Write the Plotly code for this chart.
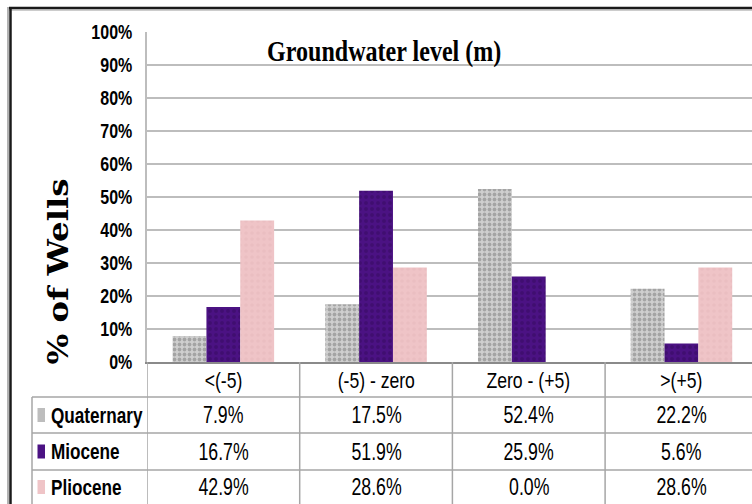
import json
import plotly.graph_objects as go

# Groundwater level classes and share of wells per aquifer (%)
categories = ["<(-5)", "(-5) - zero", "Zero - (+5)", ">(+5)"]
series_names = ["Quaternary", "Miocene", "Pliocene"]
quaternary = [7.9, 17.5, 52.4, 22.2]
miocene = [16.7, 51.9, 25.9, 5.6]
pliocene = [42.9, 28.6, 0.0, 28.6]
y_ticks = [0, 10, 20, 30, 40, 50, 60, 70, 80, 90, 100]
y_tick_labels = ["0%", "10%", "20%", "30%", "40%", "50%", "60%", "70%", "80%", "90%", "100%"]

W, H = 752, 504


def px(x):
    return x / W


def py(y):
    return 1 - y / H


SANS = "Liberation Sans, Arial, sans-serif"
SERIF = "Liberation Serif, Times New Roman, serif"
GRID = "#BDBDBD"
TABLE_LINE = "#A6A6A6"

styles = {
    "Quaternary": dict(bg="#CFCFCF", fg="#7A7A7A", shape=".", size=5, solidity=0.45),
    "Miocene": dict(bg="#4B1283", fg="#36095E", shape=".", size=6, solidity=0.35),
    "Pliocene": dict(bg="#EFC4C7", fg="#E6B8BC", shape=".", size=6, solidity=0.3),
}
key_colors = {"Quaternary": "#BDBDBD", "Miocene": "#4B1283", "Pliocene": "#EFC4C7"}

fig = go.Figure()
for name, vals in zip(series_names, [quaternary, miocene, pliocene]):
    s = styles[name]
    fig.add_trace(go.Bar(
        x=categories, y=vals, name=name,
        marker=dict(
            color=s["bg"],
            line=dict(width=0),
            pattern=dict(shape=s["shape"], fgcolor=s["fg"], bgcolor=s["bg"],
                         size=s["size"], solidity=s["solidity"], fillmode="overlay"),
        ),
        hovertemplate="%{x}: %{y:.1f}%<extra>" + name + "</extra>",
    ))

plot_left, plot_top, plot_bottom = 147, 32, 362
col_w = 152.7
x_end = -0.5 + (W - plot_left) / col_w

fig.update_layout(
    width=W, height=H, autosize=False,
    margin=dict(l=0, r=0, t=0, b=0, pad=0),
    paper_bgcolor="white", plot_bgcolor="white",
    showlegend=False,
    barmode="group", bargap=0.335, bargroupgap=0,
    xaxis=dict(
        domain=[px(plot_left), 1],
        range=[-0.5, x_end],
        showticklabels=False, ticks="", automargin=False,
        showline=True, linecolor="#8A8A8A", linewidth=2,
        showgrid=False, zeroline=False, fixedrange=True,
    ),
    yaxis=dict(
        domain=[py(plot_bottom), py(plot_top)],
        range=[0, 100], automargin=False,
        tickmode="array", tickvals=y_ticks, ticktext=y_tick_labels,
        tickfont=dict(family=SANS, size=20, color="black", weight="bold"),
        ticklabelstandoff=9,
        showgrid=True, gridcolor=GRID, gridwidth=1.5,
        showline=True, linecolor=GRID, linewidth=1.5,
        zeroline=False, ticks="", fixedrange=True,
    ),
)

shapes = []
# outer chart frame
shapes.append(dict(type="line", xref="paper", yref="paper", x0=px(9), x1=1.01, y0=py(8), y1=py(8),
                   line=dict(color="#1A1A1A", width=2.5)))
shapes.append(dict(type="line", xref="paper", yref="paper", x0=px(9), x1=1.01, y0=py(10), y1=py(10),
                   line=dict(color="#9A9A9A", width=1)))
shapes.append(dict(type="line", xref="paper", yref="paper", x0=px(8), x1=px(8), y0=py(7), y1=-0.01,
                   line=dict(color="#9A9A9A", width=1.5)))
shapes.append(dict(type="line", xref="paper", yref="paper", x0=px(10.5), x1=px(10.5), y0=py(7), y1=-0.01,
                   line=dict(color="#1A1A1A", width=2.5)))

# data table grid
row_lines = [397, 433, 470]
for yy in row_lines:
    shapes.append(dict(type="line", xref="paper", yref="paper", x0=px(32), x1=1.0, y0=py(yy), y1=py(yy),
                       line=dict(color=TABLE_LINE, width=1.5)))
shapes.append(dict(type="line", xref="paper", yref="paper", x0=px(32), x1=px(32), y0=py(397), y1=-0.01,
                   line=dict(color=TABLE_LINE, width=1.5)))
for b in [-0.5, 0.5, 1.5, 2.5]:
    shapes.append(dict(type="line", xref="x", yref="paper", x0=b, x1=b, y0=py(362), y1=-0.01,
                       line=dict(color=TABLE_LINE, width=1.5)))

# legend keys in the table
row_centers = [415, 451.5, 487]
for name, yc in zip(series_names, row_centers):
    shapes.append(dict(type="rect", xref="paper", yref="paper", x0=px(37.5), x1=px(45), y0=py(yc - 7),
                       y1=py(yc + 7), fillcolor=key_colors[name], line=dict(width=0)))

fig.update_layout(shapes=shapes)

ann = []
squeeze = []  # [horizontal glyph scale, anchor] per annotation (condensed fonts)


def add_text(text, x, y, font, xref="paper", xanchor="center", textangle=0, scale=1.0):
    ann.append(dict(text=text, xref=xref, yref="paper", x=x, y=y, xanchor=xanchor, yanchor="middle",
                    textangle=textangle, showarrow=False, font=font))
    squeeze.append([scale, xanchor])


# chart title
add_text("<b>Groundwater level (m)</b>", px(384), py(52), dict(family=SERIF, size=29, color="black"),
         scale=0.83)
# y-axis title
add_text("<b>% of Wells</b>", px(58), py(272), dict(family="DejaVu Serif, serif", size=27, color="black"),
         textangle=-90, scale=1.2)
# category header row
for c in categories:
    add_text(c, c, py(380), dict(family=SANS, size=22, color="black"), xref="x", scale=0.8)
# series rows
for name, vals, yc in zip(series_names, [quaternary, miocene, pliocene], row_centers):
    add_text("<b>" + name + "</b>", px(49), py(yc), dict(family=SANS, size=22, color="black"),
             xanchor="left", scale=0.78)
    for c, v in zip(categories, vals):
        add_text(f"{v:.1f}%", c, py(yc), dict(family=SANS, size=23, color="black"), xref="x", scale=0.77)
fig.update_layout(annotations=ann)

# Narrow the sans/serif glyphs in place (Arial Narrow / condensed Times look)
post = """
var gd = document.getElementById('{plot_id}');
var annScale = %s;
function squeezeText(el, s, mode) {
  if (!el) return;
  if (!el.hasAttribute('data-tf0')) {
    el.setAttribute('data-tf0', el.getAttribute('transform') || '');
    var bb = el.getBBox();
    var ox = mode === 'left' ? bb.x : (mode === 'right' ? bb.x + bb.width : bb.x + bb.width / 2);
    el.setAttribute('data-ox', ox);
  }
  var x = parseFloat(el.getAttribute('data-ox'));
  el.setAttribute('transform', el.getAttribute('data-tf0') +
    ' translate(' + x + ',0) scale(' + s + ',1) translate(' + (-x) + ',0)');
}
function applySqueeze() {
  gd.querySelectorAll('.ytick text').forEach(function (t) { squeezeText(t, 0.8, 'right'); });
  gd.querySelectorAll('g.annotation').forEach(function (g) {
    var i = parseInt(g.getAttribute('data-index'));
    squeezeText(g.querySelector('text.annotation-text'), annScale[i][0], annScale[i][1]);
  });
}
applySqueeze();
if (gd.on) gd.on('plotly_afterplot', applySqueeze);
setTimeout(applySqueeze, 50);
""" % json.dumps(squeeze)

fig.write_html("out.html", config={"displayModeBar": False}, post_script=post)
